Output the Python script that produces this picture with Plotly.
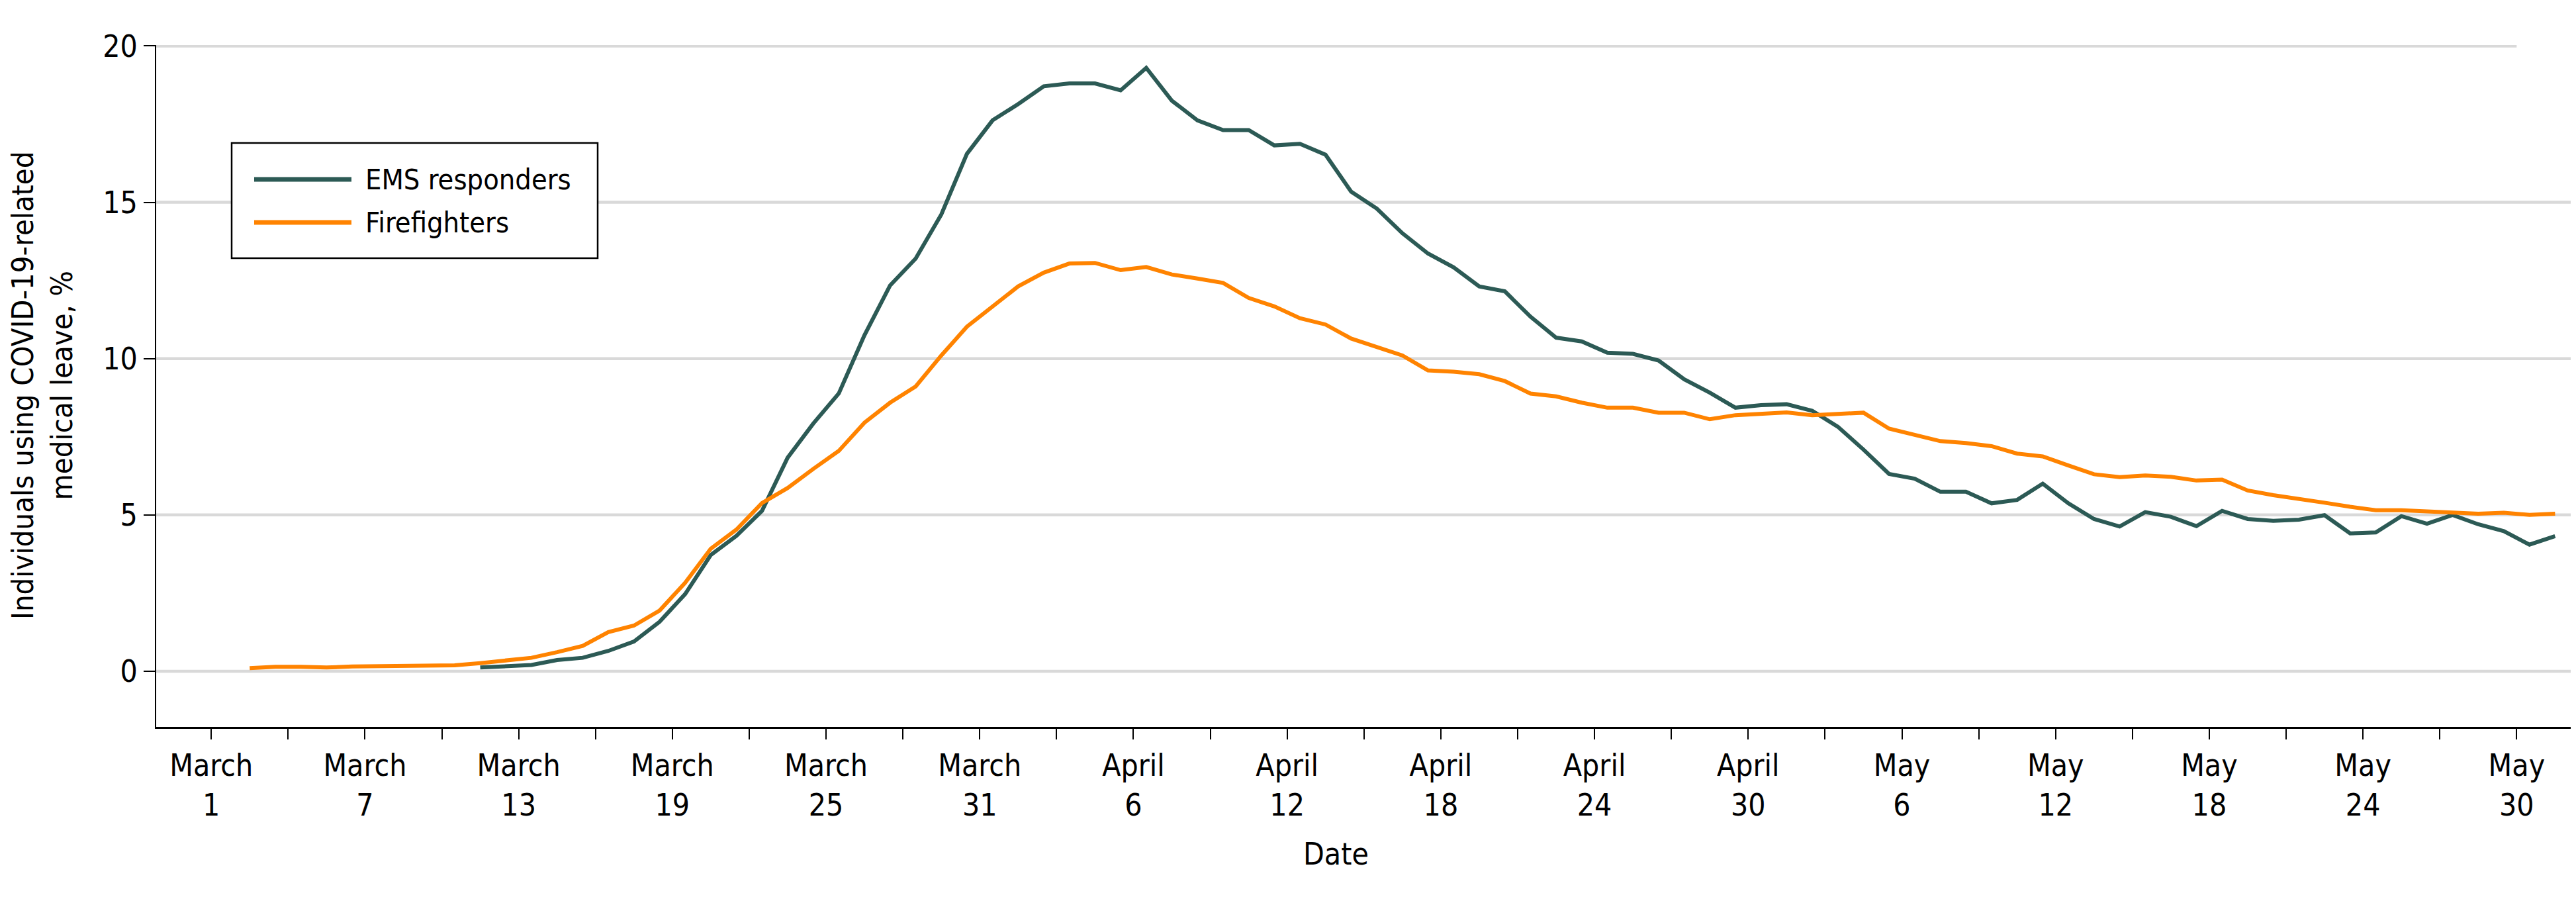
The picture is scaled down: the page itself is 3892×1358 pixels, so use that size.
import pandas as pd
import plotly.graph_objects as go

# ---- data (daily values, %) ----
fire_start = "2020-03-02 12:00"
firefighters = [
    0.10, 0.14, 0.14, 0.12, 0.15, 0.16, 0.20, 0.20, 0.19, 0.26,
    0.35, 0.43, 0.61, 0.81, 1.25, 1.46, 1.94, 2.83, 3.92, 4.53,
    5.38, 5.86, 6.47, 7.05,
    7.95, 8.59, 9.11, 10.10, 11.02, 11.67, 12.31, 12.75, 13.04, 13.06,
    12.83, 12.93, 12.69, 12.56, 12.42, 11.94, 11.67, 11.29, 11.09,
    10.64, 10.37, 10.10, 9.62, 9.58, 9.50, 9.28, 8.88, 8.79, 8.59,
    8.43, 8.43, 8.27, 8.27, 8.06, 8.19, 8.25, 8.28, 8.19, 8.23,
    8.27, 7.76, 7.56,
    7.36, 7.30, 7.20, 6.96, 6.87, 6.58, 6.30, 6.21, 6.26, 6.22,
    6.10, 6.13, 5.78, 5.63, 5.52, 5.39, 5.26, 5.15, 5.15, 5.11,
    5.09, 5.04, 5.07, 5.00, 5.04,
]
ems_start = "2020-03-11 12:00"
ems = [
    0.12, 0.16, 0.20, 0.36, 0.43, 0.65, 0.95, 1.58, 2.47, 3.72,
    4.33, 5.13, 6.83, 7.92,
    8.89, 10.75, 12.34, 13.20, 14.61, 16.55, 17.62, 18.14, 18.71, 18.80,
    18.80, 18.58, 19.30, 18.25, 17.62, 17.31, 17.31, 16.82, 16.87, 16.52,
    15.34, 14.80, 14.01, 13.36, 12.92, 12.31, 12.15, 11.34, 10.67, 10.55,
    10.19, 10.15, 9.94, 9.34, 8.91, 8.43, 8.51, 8.54, 8.33, 7.82,
    7.09, 6.31, 6.16,
    5.74, 5.74, 5.37, 5.48, 6.00, 5.37, 4.87, 4.63, 5.09, 4.94,
    4.64, 5.13, 4.87, 4.81, 4.85, 4.99, 4.41, 4.44, 4.96, 4.72,
    5.00, 4.70, 4.48, 4.05, 4.32,
]
series_names = ["EMS responders", "Firefighters"]

tick_dates = pd.date_range("2020-03-01", "2020-05-30", freq="3D")
tick_labels = [
    "March<br>1", "", "March<br>7", "", "March<br>13", "", "March<br>19", "",
    "March<br>25", "", "March<br>31", "", "April<br>6", "", "April<br>12", "",
    "April<br>18", "", "April<br>24", "", "April<br>30", "", "May<br>6", "",
    "May<br>12", "", "May<br>18", "", "May<br>24", "", "May<br>30",
]
y_ticks = [0, 5, 10, 15, 20]

# ---- style ----
EMS_COLOR = "#2C5A55"
FIRE_COLOR = "#FF8300"
GRID = "#D9D9D9"
FONT = "Liberation Sans Narrow, Arial Narrow, DejaVu Sans Condensed, sans-serif"
FS = 46

# page has an 8px body margin: shrink the figure so it fits the window exactly
OFF = 8
W, H = 3892 - OFF, 1358 - OFF
L, R, T, B = 236 - OFF, 5, 68 - OFF, 260
PW, PH = W - L - R, H - T - B
X_RANGE = ["2020-02-27 20:24", "2020-06-01 04:30"]


def px_x(p):
    # p: target pixel x in the screenshot
    return (p - OFF - L) / PW


def px_y(p):
    return (H - B - (p - OFF)) / PH


fire_x = pd.date_range(fire_start, periods=len(firefighters), freq="D")
ems_x = pd.date_range(ems_start, periods=len(ems), freq="D")

fig = go.Figure()
fig.add_trace(go.Scatter(x=ems_x, y=ems, mode="lines", name=series_names[0],
                         line=dict(color=EMS_COLOR, width=6)))
fig.add_trace(go.Scatter(x=fire_x, y=firefighters, mode="lines", name=series_names[1],
                         line=dict(color=FIRE_COLOR, width=6)))

fig.update_layout(
    width=W, height=H,
    margin=dict(l=L, r=R, t=T, b=B),
    paper_bgcolor="white", plot_bgcolor="white",
    showlegend=False,
    font=dict(family=FONT, size=FS, color="black"),
)
fig.update_xaxes(
    type="date",
    range=X_RANGE,
    tickmode="array", tickvals=tick_dates, ticktext=tick_labels,
    ticks="outside", ticklen=16, tickwidth=2, tickcolor="black",
    showline=True, linecolor="black", linewidth=3,
    showgrid=False, zeroline=False,
    tickfont=dict(family=FONT, size=FS, color="black"),
)
fig.update_yaxes(
    range=[-1.78, 20.03],
    tickmode="array", tickvals=y_ticks,
    ticks="outside", ticklen=17, tickwidth=2, tickcolor="black",
    showline=True, linecolor="black", linewidth=2,
    showgrid=False, zeroline=False,
    tickfont=dict(family=FONT, size=FS, color="black"),
)

# horizontal gridlines (the top one stops at the last date tick, as in the original)
for v in y_ticks:
    if v == max(y_ticks):
        fig.add_shape(type="line", xref="x", yref="y", x0=X_RANGE[0], x1=tick_dates[-1],
                      y0=v, y1=v, line=dict(color=GRID, width=4.5), layer="below")
    else:
        fig.add_shape(type="line", xref="paper", yref="y", x0=0, x1=1,
                      y0=v, y1=v, line=dict(color=GRID, width=4.5), layer="below")

# axis titles
fig.add_annotation(
    text="Individuals using COVID-19-related<br>medical leave, %",
    xref="paper", yref="paper", x=px_x(64), y=px_y(583), xanchor="center", yanchor="middle",
    textangle=-90, showarrow=False, font=dict(family=FONT, size=45, color="black"),
)
fig.add_annotation(
    text="Date", xref="paper", yref="paper", x=px_x(2018), y=px_y(1290),
    xanchor="center", yanchor="middle", showarrow=False,
    font=dict(family=FONT, size=FS, color="black"),
)

# legend (box, sample lines, labels)
fig.add_shape(type="rect", xref="paper", yref="paper",
              x0=px_x(350), x1=px_x(903), y0=px_y(390), y1=px_y(216),
              line=dict(color="black", width=2.5), fillcolor="white", layer="above")
for name, color, yy in [(series_names[0], EMS_COLOR, 271), (series_names[1], FIRE_COLOR, 336)]:
    fig.add_shape(type="line", xref="paper", yref="paper",
                  x0=px_x(384), x1=px_x(531), y0=px_y(yy), y1=px_y(yy),
                  line=dict(color=color, width=7), layer="above")
    fig.add_annotation(text=name, xref="paper", yref="paper", x=px_x(550), y=px_y(yy),
                       xanchor="left", yanchor="middle", showarrow=False,
                       font=dict(family=FONT, size=43, color="black"))

fig.write_html("out.html")
